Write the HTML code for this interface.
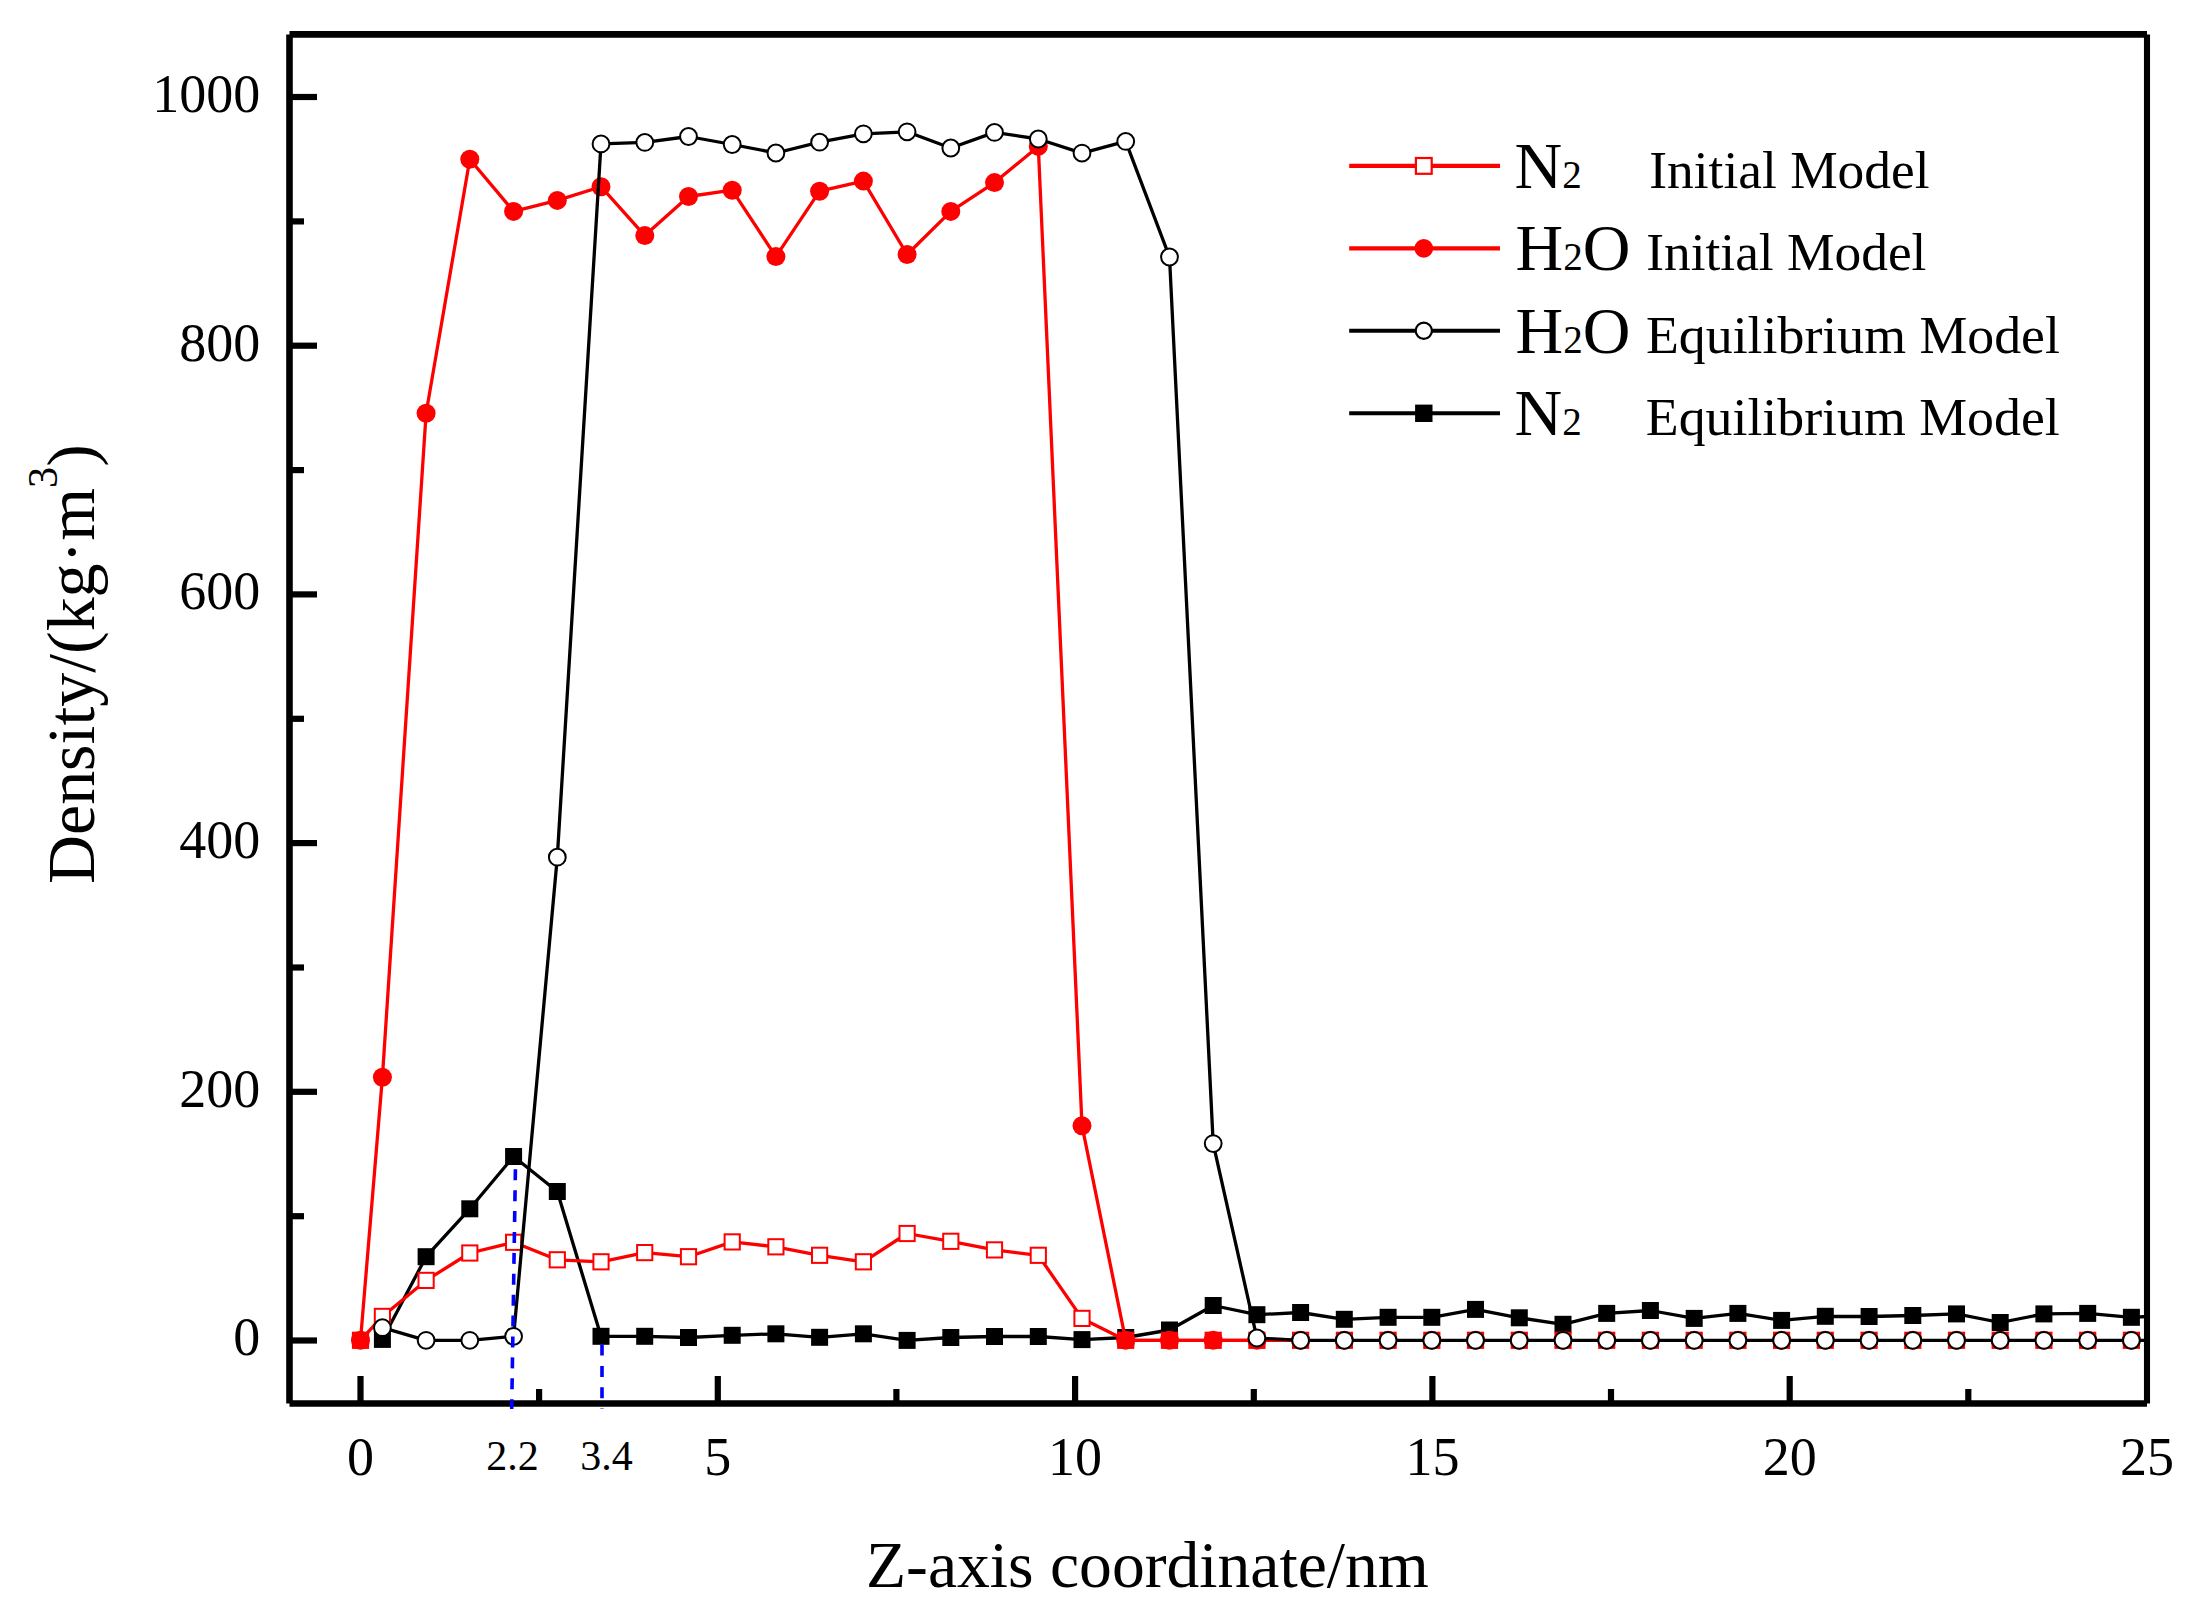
<!DOCTYPE html>
<html lang="en">
<head>
<meta charset="utf-8">
<title>Density profile along Z-axis</title>
<style>
html,body{margin:0;padding:0;background:#ffffff;}
body{width:2188px;height:1611px;overflow:hidden;}
svg text{white-space:pre;}
</style>
</head>
<body>
<svg width="2188" height="1611" viewBox="0 0 2188 1611" style="display:block">
<rect x="0" y="0" width="2188" height="1611" fill="#ffffff"/>
<defs><clipPath id="plot"><rect x="289.5" y="34.4" width="1857.5" height="1369.1"/></clipPath></defs>
<g clip-path="url(#plot)">
<polyline points="382.4,1339.4 426.1,1256.7 469.8,1208.8 513.6,1156.5 557.3,1191.5 601.0,1336.3 644.8,1336.3 688.5,1337.5 732.2,1335.3 775.9,1333.8 819.6,1337.3 863.4,1333.8 907.1,1340.4 950.8,1337.5 994.5,1336.5 1038.3,1336.5 1082.0,1339.6 1125.7,1337.5 1169.5,1330.0 1213.2,1305.5 1256.9,1314.7 1300.6,1312.5 1344.3,1319.3 1388.1,1317.3 1431.8,1317.3 1475.5,1309.4 1519.2,1317.8 1563.0,1324.3 1606.7,1313.4 1650.4,1310.5 1694.2,1318.4 1737.9,1313.4 1781.6,1320.4 1825.3,1316.3 1869.1,1316.5 1912.8,1315.5 1956.5,1313.9 2000.2,1322.5 2043.9,1313.9 2087.7,1313.4 2131.4,1317.3 2175.1,1315.0" fill="none" stroke="#000000" stroke-width="3.3" stroke-linejoin="round"/>
<rect x="373.9" y="1330.9" width="17.0" height="17.0" fill="#000000"/>
<rect x="417.6" y="1248.2" width="17.0" height="17.0" fill="#000000"/>
<rect x="461.3" y="1200.3" width="17.0" height="17.0" fill="#000000"/>
<rect x="505.1" y="1148.0" width="17.0" height="17.0" fill="#000000"/>
<rect x="548.8" y="1183.0" width="17.0" height="17.0" fill="#000000"/>
<rect x="592.5" y="1327.8" width="17.0" height="17.0" fill="#000000"/>
<rect x="636.2" y="1327.8" width="17.0" height="17.0" fill="#000000"/>
<rect x="680.0" y="1329.0" width="17.0" height="17.0" fill="#000000"/>
<rect x="723.7" y="1326.8" width="17.0" height="17.0" fill="#000000"/>
<rect x="767.4" y="1325.3" width="17.0" height="17.0" fill="#000000"/>
<rect x="811.1" y="1328.8" width="17.0" height="17.0" fill="#000000"/>
<rect x="854.9" y="1325.3" width="17.0" height="17.0" fill="#000000"/>
<rect x="898.6" y="1331.9" width="17.0" height="17.0" fill="#000000"/>
<rect x="942.3" y="1329.0" width="17.0" height="17.0" fill="#000000"/>
<rect x="986.0" y="1328.0" width="17.0" height="17.0" fill="#000000"/>
<rect x="1029.8" y="1328.0" width="17.0" height="17.0" fill="#000000"/>
<rect x="1073.5" y="1331.1" width="17.0" height="17.0" fill="#000000"/>
<rect x="1117.2" y="1329.0" width="17.0" height="17.0" fill="#000000"/>
<rect x="1161.0" y="1321.5" width="17.0" height="17.0" fill="#000000"/>
<rect x="1204.7" y="1297.0" width="17.0" height="17.0" fill="#000000"/>
<rect x="1248.4" y="1306.2" width="17.0" height="17.0" fill="#000000"/>
<rect x="1292.1" y="1304.0" width="17.0" height="17.0" fill="#000000"/>
<rect x="1335.8" y="1310.8" width="17.0" height="17.0" fill="#000000"/>
<rect x="1379.6" y="1308.8" width="17.0" height="17.0" fill="#000000"/>
<rect x="1423.3" y="1308.8" width="17.0" height="17.0" fill="#000000"/>
<rect x="1467.0" y="1300.9" width="17.0" height="17.0" fill="#000000"/>
<rect x="1510.8" y="1309.3" width="17.0" height="17.0" fill="#000000"/>
<rect x="1554.5" y="1315.8" width="17.0" height="17.0" fill="#000000"/>
<rect x="1598.2" y="1304.9" width="17.0" height="17.0" fill="#000000"/>
<rect x="1641.9" y="1302.0" width="17.0" height="17.0" fill="#000000"/>
<rect x="1685.7" y="1309.9" width="17.0" height="17.0" fill="#000000"/>
<rect x="1729.4" y="1304.9" width="17.0" height="17.0" fill="#000000"/>
<rect x="1773.1" y="1311.9" width="17.0" height="17.0" fill="#000000"/>
<rect x="1816.8" y="1307.8" width="17.0" height="17.0" fill="#000000"/>
<rect x="1860.6" y="1308.0" width="17.0" height="17.0" fill="#000000"/>
<rect x="1904.3" y="1307.0" width="17.0" height="17.0" fill="#000000"/>
<rect x="1948.0" y="1305.4" width="17.0" height="17.0" fill="#000000"/>
<rect x="1991.7" y="1314.0" width="17.0" height="17.0" fill="#000000"/>
<rect x="2035.4" y="1305.4" width="17.0" height="17.0" fill="#000000"/>
<rect x="2079.2" y="1304.9" width="17.0" height="17.0" fill="#000000"/>
<rect x="2122.9" y="1308.8" width="17.0" height="17.0" fill="#000000"/>
<rect x="2166.6" y="1306.5" width="17.0" height="17.0" fill="#000000"/>
<polyline points="360.5,1340.3 382.4,1316.4 426.1,1280.4 469.8,1253.0 513.6,1242.3 557.3,1259.8 601.0,1261.8 644.8,1252.6 688.5,1256.7 732.2,1241.9 775.9,1246.8 819.6,1255.3 863.4,1261.8 907.1,1233.5 950.8,1241.3 994.5,1249.9 1038.3,1255.3 1082.0,1318.4 1125.7,1340.3 1169.5,1340.3 1213.2,1340.3 1256.9,1340.3 1300.6,1340.3" fill="none" stroke="#ff0000" stroke-width="3.3" stroke-linejoin="round"/>
<rect x="352.9" y="1332.7" width="15.2" height="15.2" fill="#ffffff" stroke="#ff0000" stroke-width="2.0"/>
<rect x="374.8" y="1308.8" width="15.2" height="15.2" fill="#ffffff" stroke="#ff0000" stroke-width="2.0"/>
<rect x="418.5" y="1272.8" width="15.2" height="15.2" fill="#ffffff" stroke="#ff0000" stroke-width="2.0"/>
<rect x="462.2" y="1245.4" width="15.2" height="15.2" fill="#ffffff" stroke="#ff0000" stroke-width="2.0"/>
<rect x="506.0" y="1234.7" width="15.2" height="15.2" fill="#ffffff" stroke="#ff0000" stroke-width="2.0"/>
<rect x="549.7" y="1252.2" width="15.2" height="15.2" fill="#ffffff" stroke="#ff0000" stroke-width="2.0"/>
<rect x="593.4" y="1254.2" width="15.2" height="15.2" fill="#ffffff" stroke="#ff0000" stroke-width="2.0"/>
<rect x="637.1" y="1245.0" width="15.2" height="15.2" fill="#ffffff" stroke="#ff0000" stroke-width="2.0"/>
<rect x="680.9" y="1249.1" width="15.2" height="15.2" fill="#ffffff" stroke="#ff0000" stroke-width="2.0"/>
<rect x="724.6" y="1234.3" width="15.2" height="15.2" fill="#ffffff" stroke="#ff0000" stroke-width="2.0"/>
<rect x="768.3" y="1239.2" width="15.2" height="15.2" fill="#ffffff" stroke="#ff0000" stroke-width="2.0"/>
<rect x="812.0" y="1247.7" width="15.2" height="15.2" fill="#ffffff" stroke="#ff0000" stroke-width="2.0"/>
<rect x="855.8" y="1254.2" width="15.2" height="15.2" fill="#ffffff" stroke="#ff0000" stroke-width="2.0"/>
<rect x="899.5" y="1225.9" width="15.2" height="15.2" fill="#ffffff" stroke="#ff0000" stroke-width="2.0"/>
<rect x="943.2" y="1233.7" width="15.2" height="15.2" fill="#ffffff" stroke="#ff0000" stroke-width="2.0"/>
<rect x="986.9" y="1242.3" width="15.2" height="15.2" fill="#ffffff" stroke="#ff0000" stroke-width="2.0"/>
<rect x="1030.7" y="1247.7" width="15.2" height="15.2" fill="#ffffff" stroke="#ff0000" stroke-width="2.0"/>
<rect x="1074.4" y="1310.8" width="15.2" height="15.2" fill="#ffffff" stroke="#ff0000" stroke-width="2.0"/>
<rect x="1118.1" y="1332.7" width="15.2" height="15.2" fill="#ffffff" stroke="#ff0000" stroke-width="2.0"/>
<rect x="1161.9" y="1332.7" width="15.2" height="15.2" fill="#ffffff" stroke="#ff0000" stroke-width="2.0"/>
<rect x="1205.6" y="1332.7" width="15.2" height="15.2" fill="#ffffff" stroke="#ff0000" stroke-width="2.0"/>
<rect x="1249.3" y="1332.7" width="15.2" height="15.2" fill="#ffffff" stroke="#ff0000" stroke-width="2.0"/>
<rect x="1293.0" y="1332.7" width="15.2" height="15.2" fill="#ffffff" stroke="#ff0000" stroke-width="2.0"/>
<rect x="1336.8" y="1332.7" width="15.2" height="15.2" fill="#ffffff" stroke="#ff0000" stroke-width="2.0"/>
<rect x="1380.5" y="1332.7" width="15.2" height="15.2" fill="#ffffff" stroke="#ff0000" stroke-width="2.0"/>
<rect x="1424.2" y="1332.7" width="15.2" height="15.2" fill="#ffffff" stroke="#ff0000" stroke-width="2.0"/>
<rect x="1467.9" y="1332.7" width="15.2" height="15.2" fill="#ffffff" stroke="#ff0000" stroke-width="2.0"/>
<rect x="1511.7" y="1332.7" width="15.2" height="15.2" fill="#ffffff" stroke="#ff0000" stroke-width="2.0"/>
<rect x="1555.4" y="1332.7" width="15.2" height="15.2" fill="#ffffff" stroke="#ff0000" stroke-width="2.0"/>
<rect x="1599.1" y="1332.7" width="15.2" height="15.2" fill="#ffffff" stroke="#ff0000" stroke-width="2.0"/>
<rect x="1642.8" y="1332.7" width="15.2" height="15.2" fill="#ffffff" stroke="#ff0000" stroke-width="2.0"/>
<rect x="1686.6" y="1332.7" width="15.2" height="15.2" fill="#ffffff" stroke="#ff0000" stroke-width="2.0"/>
<rect x="1730.3" y="1332.7" width="15.2" height="15.2" fill="#ffffff" stroke="#ff0000" stroke-width="2.0"/>
<rect x="1774.0" y="1332.7" width="15.2" height="15.2" fill="#ffffff" stroke="#ff0000" stroke-width="2.0"/>
<rect x="1817.7" y="1332.7" width="15.2" height="15.2" fill="#ffffff" stroke="#ff0000" stroke-width="2.0"/>
<rect x="1861.5" y="1332.7" width="15.2" height="15.2" fill="#ffffff" stroke="#ff0000" stroke-width="2.0"/>
<rect x="1905.2" y="1332.7" width="15.2" height="15.2" fill="#ffffff" stroke="#ff0000" stroke-width="2.0"/>
<rect x="1948.9" y="1332.7" width="15.2" height="15.2" fill="#ffffff" stroke="#ff0000" stroke-width="2.0"/>
<rect x="1992.6" y="1332.7" width="15.2" height="15.2" fill="#ffffff" stroke="#ff0000" stroke-width="2.0"/>
<rect x="2036.3" y="1332.7" width="15.2" height="15.2" fill="#ffffff" stroke="#ff0000" stroke-width="2.0"/>
<rect x="2080.1" y="1332.7" width="15.2" height="15.2" fill="#ffffff" stroke="#ff0000" stroke-width="2.0"/>
<rect x="2123.8" y="1332.7" width="15.2" height="15.2" fill="#ffffff" stroke="#ff0000" stroke-width="2.0"/>
<rect x="2167.5" y="1332.7" width="15.2" height="15.2" fill="#ffffff" stroke="#ff0000" stroke-width="2.0"/>
<polyline points="360.5,1340.3 382.4,1077.3 426.1,413.3 469.8,159.3 513.6,211.4 557.3,200.4 601.0,186.7 644.8,235.6 688.5,196.5 732.2,190.2 775.9,256.6 819.6,191.2 863.4,181.1 907.1,254.5 950.8,211.4 994.5,182.6 1038.3,146.4 1082.0,1125.7 1125.7,1340.3 1169.5,1340.3 1213.2,1340.3 1256.9,1340.3 1300.6,1340.3" fill="none" stroke="#ff0000" stroke-width="3.3" stroke-linejoin="round"/>
<circle cx="360.5" cy="1340.3" r="9.5" fill="#ff0000"/>
<circle cx="382.4" cy="1077.3" r="9.5" fill="#ff0000"/>
<circle cx="426.1" cy="413.3" r="9.5" fill="#ff0000"/>
<circle cx="469.8" cy="159.3" r="9.5" fill="#ff0000"/>
<circle cx="513.6" cy="211.4" r="9.5" fill="#ff0000"/>
<circle cx="557.3" cy="200.4" r="9.5" fill="#ff0000"/>
<circle cx="601.0" cy="186.7" r="9.5" fill="#ff0000"/>
<circle cx="644.8" cy="235.6" r="9.5" fill="#ff0000"/>
<circle cx="688.5" cy="196.5" r="9.5" fill="#ff0000"/>
<circle cx="732.2" cy="190.2" r="9.5" fill="#ff0000"/>
<circle cx="775.9" cy="256.6" r="9.5" fill="#ff0000"/>
<circle cx="819.6" cy="191.2" r="9.5" fill="#ff0000"/>
<circle cx="863.4" cy="181.1" r="9.5" fill="#ff0000"/>
<circle cx="907.1" cy="254.5" r="9.5" fill="#ff0000"/>
<circle cx="950.8" cy="211.4" r="9.5" fill="#ff0000"/>
<circle cx="994.5" cy="182.6" r="9.5" fill="#ff0000"/>
<circle cx="1038.3" cy="146.4" r="9.5" fill="#ff0000"/>
<circle cx="1082.0" cy="1125.7" r="9.5" fill="#ff0000"/>
<circle cx="1125.7" cy="1340.3" r="9.5" fill="#ff0000"/>
<circle cx="1169.5" cy="1340.3" r="9.5" fill="#ff0000"/>
<circle cx="1213.2" cy="1340.3" r="9.5" fill="#ff0000"/>
<circle cx="1256.9" cy="1340.3" r="9.5" fill="#ff0000"/>
<circle cx="1300.6" cy="1340.3" r="9.5" fill="#ff0000"/>
<circle cx="1344.3" cy="1340.3" r="9.5" fill="#ff0000"/>
<circle cx="1388.1" cy="1340.3" r="9.5" fill="#ff0000"/>
<circle cx="1431.8" cy="1340.3" r="9.5" fill="#ff0000"/>
<circle cx="1475.5" cy="1340.3" r="9.5" fill="#ff0000"/>
<circle cx="1519.2" cy="1340.3" r="9.5" fill="#ff0000"/>
<circle cx="1563.0" cy="1340.3" r="9.5" fill="#ff0000"/>
<circle cx="1606.7" cy="1340.3" r="9.5" fill="#ff0000"/>
<circle cx="1650.4" cy="1340.3" r="9.5" fill="#ff0000"/>
<circle cx="1694.2" cy="1340.3" r="9.5" fill="#ff0000"/>
<circle cx="1737.9" cy="1340.3" r="9.5" fill="#ff0000"/>
<circle cx="1781.6" cy="1340.3" r="9.5" fill="#ff0000"/>
<circle cx="1825.3" cy="1340.3" r="9.5" fill="#ff0000"/>
<circle cx="1869.1" cy="1340.3" r="9.5" fill="#ff0000"/>
<circle cx="1912.8" cy="1340.3" r="9.5" fill="#ff0000"/>
<circle cx="1956.5" cy="1340.3" r="9.5" fill="#ff0000"/>
<circle cx="2000.2" cy="1340.3" r="9.5" fill="#ff0000"/>
<circle cx="2043.9" cy="1340.3" r="9.5" fill="#ff0000"/>
<circle cx="2087.7" cy="1340.3" r="9.5" fill="#ff0000"/>
<circle cx="2131.4" cy="1340.3" r="9.5" fill="#ff0000"/>
<circle cx="2175.1" cy="1340.3" r="9.5" fill="#ff0000"/>
<polyline points="382.4,1327.7 426.1,1340.3 469.8,1340.3 513.6,1336.3 557.3,857.2 601.0,143.9 644.8,142.4 688.5,136.5 732.2,144.5 775.9,153.0 819.6,142.2 863.4,133.8 907.1,131.8 950.8,148.0 994.5,132.4 1038.3,139.0 1082.0,153.1 1125.7,141.4 1169.5,257.0 1213.2,1143.6 1256.9,1338.0 1300.6,1340.3 1344.3,1340.3 1388.1,1340.3 1431.8,1340.3 1475.5,1340.3 1519.2,1340.3 1563.0,1340.3 1606.7,1340.3 1650.4,1340.3 1694.2,1340.3 1737.9,1340.3 1781.6,1340.3 1825.3,1340.3 1869.1,1340.3 1912.8,1340.3 1956.5,1340.3 2000.2,1340.3 2043.9,1340.3 2087.7,1340.3 2131.4,1340.3 2175.1,1340.3" fill="none" stroke="#000000" stroke-width="3.3" stroke-linejoin="round"/>
<circle cx="382.4" cy="1327.7" r="8.4" fill="#ffffff" stroke="#000000" stroke-width="2.0"/>
<circle cx="426.1" cy="1340.3" r="8.4" fill="#ffffff" stroke="#000000" stroke-width="2.0"/>
<circle cx="469.8" cy="1340.3" r="8.4" fill="#ffffff" stroke="#000000" stroke-width="2.0"/>
<circle cx="513.6" cy="1336.3" r="8.4" fill="#ffffff" stroke="#000000" stroke-width="2.0"/>
<circle cx="557.3" cy="857.2" r="8.4" fill="#ffffff" stroke="#000000" stroke-width="2.0"/>
<circle cx="601.0" cy="143.9" r="8.4" fill="#ffffff" stroke="#000000" stroke-width="2.0"/>
<circle cx="644.8" cy="142.4" r="8.4" fill="#ffffff" stroke="#000000" stroke-width="2.0"/>
<circle cx="688.5" cy="136.5" r="8.4" fill="#ffffff" stroke="#000000" stroke-width="2.0"/>
<circle cx="732.2" cy="144.5" r="8.4" fill="#ffffff" stroke="#000000" stroke-width="2.0"/>
<circle cx="775.9" cy="153.0" r="8.4" fill="#ffffff" stroke="#000000" stroke-width="2.0"/>
<circle cx="819.6" cy="142.2" r="8.4" fill="#ffffff" stroke="#000000" stroke-width="2.0"/>
<circle cx="863.4" cy="133.8" r="8.4" fill="#ffffff" stroke="#000000" stroke-width="2.0"/>
<circle cx="907.1" cy="131.8" r="8.4" fill="#ffffff" stroke="#000000" stroke-width="2.0"/>
<circle cx="950.8" cy="148.0" r="8.4" fill="#ffffff" stroke="#000000" stroke-width="2.0"/>
<circle cx="994.5" cy="132.4" r="8.4" fill="#ffffff" stroke="#000000" stroke-width="2.0"/>
<circle cx="1038.3" cy="139.0" r="8.4" fill="#ffffff" stroke="#000000" stroke-width="2.0"/>
<circle cx="1082.0" cy="153.1" r="8.4" fill="#ffffff" stroke="#000000" stroke-width="2.0"/>
<circle cx="1125.7" cy="141.4" r="8.4" fill="#ffffff" stroke="#000000" stroke-width="2.0"/>
<circle cx="1169.5" cy="257.0" r="8.4" fill="#ffffff" stroke="#000000" stroke-width="2.0"/>
<circle cx="1213.2" cy="1143.6" r="8.4" fill="#ffffff" stroke="#000000" stroke-width="2.0"/>
<circle cx="1256.9" cy="1338.0" r="8.4" fill="#ffffff" stroke="#000000" stroke-width="2.0"/>
<circle cx="1300.6" cy="1340.3" r="8.4" fill="#ffffff" stroke="#000000" stroke-width="2.0"/>
<circle cx="1344.3" cy="1340.3" r="8.4" fill="#ffffff" stroke="#000000" stroke-width="2.0"/>
<circle cx="1388.1" cy="1340.3" r="8.4" fill="#ffffff" stroke="#000000" stroke-width="2.0"/>
<circle cx="1431.8" cy="1340.3" r="8.4" fill="#ffffff" stroke="#000000" stroke-width="2.0"/>
<circle cx="1475.5" cy="1340.3" r="8.4" fill="#ffffff" stroke="#000000" stroke-width="2.0"/>
<circle cx="1519.2" cy="1340.3" r="8.4" fill="#ffffff" stroke="#000000" stroke-width="2.0"/>
<circle cx="1563.0" cy="1340.3" r="8.4" fill="#ffffff" stroke="#000000" stroke-width="2.0"/>
<circle cx="1606.7" cy="1340.3" r="8.4" fill="#ffffff" stroke="#000000" stroke-width="2.0"/>
<circle cx="1650.4" cy="1340.3" r="8.4" fill="#ffffff" stroke="#000000" stroke-width="2.0"/>
<circle cx="1694.2" cy="1340.3" r="8.4" fill="#ffffff" stroke="#000000" stroke-width="2.0"/>
<circle cx="1737.9" cy="1340.3" r="8.4" fill="#ffffff" stroke="#000000" stroke-width="2.0"/>
<circle cx="1781.6" cy="1340.3" r="8.4" fill="#ffffff" stroke="#000000" stroke-width="2.0"/>
<circle cx="1825.3" cy="1340.3" r="8.4" fill="#ffffff" stroke="#000000" stroke-width="2.0"/>
<circle cx="1869.1" cy="1340.3" r="8.4" fill="#ffffff" stroke="#000000" stroke-width="2.0"/>
<circle cx="1912.8" cy="1340.3" r="8.4" fill="#ffffff" stroke="#000000" stroke-width="2.0"/>
<circle cx="1956.5" cy="1340.3" r="8.4" fill="#ffffff" stroke="#000000" stroke-width="2.0"/>
<circle cx="2000.2" cy="1340.3" r="8.4" fill="#ffffff" stroke="#000000" stroke-width="2.0"/>
<circle cx="2043.9" cy="1340.3" r="8.4" fill="#ffffff" stroke="#000000" stroke-width="2.0"/>
<circle cx="2087.7" cy="1340.3" r="8.4" fill="#ffffff" stroke="#000000" stroke-width="2.0"/>
<circle cx="2131.4" cy="1340.3" r="8.4" fill="#ffffff" stroke="#000000" stroke-width="2.0"/>
<circle cx="2175.1" cy="1340.3" r="8.4" fill="#ffffff" stroke="#000000" stroke-width="2.0"/>
</g>
<line x1="602.0" y1="1344.6" x2="602.0" y2="1409" stroke="#0000ff" stroke-width="3.6" stroke-dasharray="11 10.3" />
<g stroke="#000" stroke-width="6.6" fill="none">
<line x1="289.5" y1="34.4" x2="2147.0" y2="34.4"/>
<line x1="289.5" y1="1403.5" x2="2147.0" y2="1403.5"/>
<line x1="289.5" y1="34.4" x2="289.5" y2="1403.5"/>
<line x1="2147.0" y1="34.4" x2="2147.0" y2="1403.5" stroke-width="6.1"/>
</g>
<g stroke="#000" stroke-width="6.2" fill="none">
<line x1="289.5" y1="1340.5" x2="317.0" y2="1340.5"/>
<line x1="289.5" y1="1216.2" x2="304.0" y2="1216.2"/>
<line x1="289.5" y1="1091.8" x2="317.0" y2="1091.8"/>
<line x1="289.5" y1="967.5" x2="304.0" y2="967.5"/>
<line x1="289.5" y1="843.1" x2="317.0" y2="843.1"/>
<line x1="289.5" y1="718.8" x2="304.0" y2="718.8"/>
<line x1="289.5" y1="594.4" x2="317.0" y2="594.4"/>
<line x1="289.5" y1="470.1" x2="304.0" y2="470.1"/>
<line x1="289.5" y1="345.7" x2="317.0" y2="345.7"/>
<line x1="289.5" y1="221.4" x2="304.0" y2="221.4"/>
<line x1="289.5" y1="97.0" x2="317.0" y2="97.0"/>
<line x1="360.5" y1="1403.5" x2="360.5" y2="1376.0"/>
<line x1="539.1" y1="1403.5" x2="539.1" y2="1389.0"/>
<line x1="717.8" y1="1403.5" x2="717.8" y2="1376.0"/>
<line x1="896.4" y1="1403.5" x2="896.4" y2="1389.0"/>
<line x1="1075.1" y1="1403.5" x2="1075.1" y2="1376.0"/>
<line x1="1253.8" y1="1403.5" x2="1253.8" y2="1389.0"/>
<line x1="1432.4" y1="1403.5" x2="1432.4" y2="1376.0"/>
<line x1="1611.0" y1="1403.5" x2="1611.0" y2="1389.0"/>
<line x1="1789.7" y1="1403.5" x2="1789.7" y2="1376.0"/>
<line x1="1968.3" y1="1403.5" x2="1968.3" y2="1389.0"/>
</g>
<line x1="515.4" y1="1169.3" x2="511.7" y2="1409" stroke="#0000ff" stroke-width="3.6" stroke-dasharray="11 9.9"/>
<g font-family="'Liberation Serif', 'Times New Roman', serif" fill="#000">
<text x="260.3" y="1355.3" font-size="54" text-anchor="end">0</text>
<text x="260.3" y="1106.6" font-size="54" text-anchor="end">200</text>
<text x="260.3" y="857.9" font-size="54" text-anchor="end">400</text>
<text x="260.3" y="609.2" font-size="54" text-anchor="end">600</text>
<text x="260.3" y="360.5" font-size="54" text-anchor="end">800</text>
<text x="260.3" y="111.8" font-size="54" text-anchor="end">1000</text>
<text x="360.5" y="1474.6" font-size="54" text-anchor="middle">0</text>
<text x="717.8" y="1474.6" font-size="54" text-anchor="middle">5</text>
<text x="1075.1" y="1474.6" font-size="54" text-anchor="middle">10</text>
<text x="1432.4" y="1474.6" font-size="54" text-anchor="middle">15</text>
<text x="1789.7" y="1474.6" font-size="54" text-anchor="middle">20</text>
<text x="2147.0" y="1474.6" font-size="54" text-anchor="middle">25</text>
<text x="512.4" y="1470.4" font-size="42" text-anchor="middle">2.2</text>
<text x="606.6" y="1469.6" font-size="42" text-anchor="middle">3.4</text>
<text x="866.0" y="1586.6" font-size="65.6" text-anchor="start">Z-axis coordinate/nm</text>
<text transform="translate(93.6 884.0) rotate(-90)" font-size="67.9" text-anchor="start">Density/(kg·m<tspan font-size="42.3" dy="-36.4">3</tspan><tspan dy="36.4">)</tspan></text>
</g>
<line x1="1349.2" y1="165.9" x2="1500.0" y2="165.9" stroke="#ff0000" stroke-width="4.1"/>
<rect x="1415.9" y="158.0" width="15.8" height="15.8" fill="#ffffff" stroke="#ff0000" stroke-width="2.2"/>
<line x1="1349.2" y1="248.4" x2="1500.0" y2="248.4" stroke="#ff0000" stroke-width="4.1"/>
<circle cx="1423.8" cy="248.4" r="9.3" fill="#ff0000"/>
<line x1="1349.2" y1="330.8" x2="1500.0" y2="330.8" stroke="#000000" stroke-width="4.1"/>
<circle cx="1423.8" cy="330.8" r="8.1" fill="#ffffff" stroke="#000000" stroke-width="2.2"/>
<line x1="1349.2" y1="413.3" x2="1500.0" y2="413.3" stroke="#000000" stroke-width="4.1"/>
<rect x="1415.1" y="404.6" width="17.4" height="17.4" fill="#000000"/>
<g font-family="'Liberation Serif', 'Times New Roman', serif" fill="#000">
<text x="1514.5" y="188.2" font-size="66">N<tspan font-size="39">2</tspan></text>
<text x="1515.5" y="270.2" font-size="66">H<tspan font-size="39">2</tspan><tspan font-size="66">O</tspan></text>
<text x="1515.5" y="352.8" font-size="66">H<tspan font-size="39">2</tspan><tspan font-size="66">O</tspan></text>
<text x="1514.5" y="434.8" font-size="66">N<tspan font-size="39">2</tspan></text>
<text x="1649.3" y="188.2" font-size="53.4">Initial Model</text>
<text x="1646.2" y="270.2" font-size="53.4">Initial Model</text>
<text x="1646.0" y="352.8" font-size="53.8">Equilibrium Model</text>
<text x="1645.8" y="434.8" font-size="53.8">Equilibrium Model</text>
</g>
</svg>
</body>
</html>
